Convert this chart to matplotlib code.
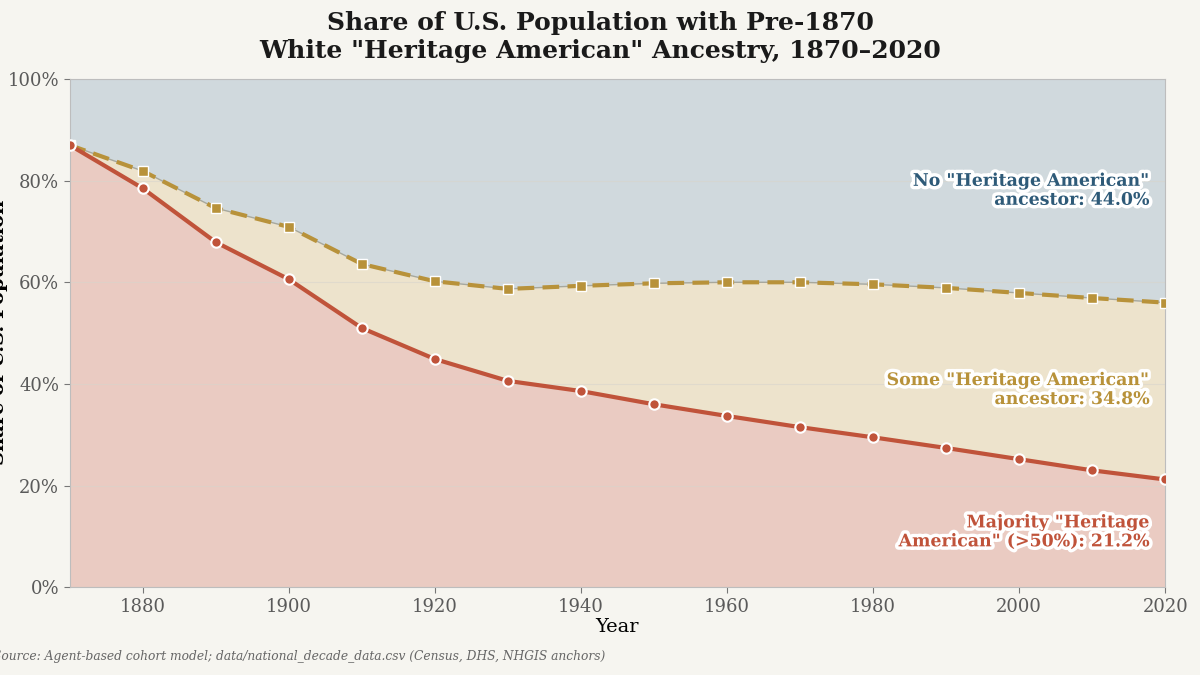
import numpy as np
import matplotlib.pyplot as plt
import matplotlib.patheffects as pe

years = [1870, 1880, 1890, 1900, 1910, 1920, 1930, 1940, 1950, 1960, 1970, 1980, 1990, 2000, 2010, 2020]
majority = [87.0, 78.5, 67.9, 60.6, 51.0, 44.9, 40.6, 38.6, 36.0, 33.7, 31.5, 29.5, 27.4, 25.2, 23.0, 21.2]
any_heritage = [87.0, 81.9, 74.6, 70.9, 63.6, 60.2, 58.7, 59.3, 59.8, 60.0, 60.0, 59.6, 58.9, 57.9, 56.9, 56.0]

bg = "#f6f5f0"
red = "#c0533a"
gold = "#b8923a"
blue = "#2e5a78"

plt.rcParams['font.family'] = 'DejaVu Serif'

fig = plt.figure(figsize=(12, 6.75), dpi=100, facecolor=bg)
ax = fig.add_axes([0.058, 0.130, 0.913, 0.753])
ax.set_facecolor(bg)

x = np.array(years)
maj = np.array(majority)
anyh = np.array(any_heritage)

# stacked bands
ax.fill_between(x, 0, maj, color="#eacbc2", lw=0)
ax.fill_between(x, maj, anyh, color="#ede3cc", lw=0)
ax.fill_between(x, anyh, 100, color="#d0d9dd", lw=0)

ax.plot(x, anyh, color="#a8a89c", lw=1, zorder=3)
ax.plot(x, anyh, color=gold, lw=3, ls=(0, (4, 2)), marker='s', ms=7,
        mfc=gold, mec='white', mew=1.0, zorder=4)
ax.plot(x, maj, color=red, lw=3, marker='o', ms=7.5,
        mfc=red, mec='white', mew=1.5, zorder=5)

ax.set_xlim(1870, 2020)
ax.set_ylim(0, 100)
ax.set_xticks(range(1880, 2021, 20))
ax.set_yticks(range(0, 101, 20))
ax.set_yticklabels([f"{v}%" for v in range(0, 101, 20)])
ax.grid(axis='y', color='#d8d4cc', lw=0.8, alpha=0.6)
for s in ax.spines.values():
    s.set_color('#bdbdbd')
    s.set_linewidth(0.8)
ax.tick_params(colors='#5a5a5a', labelsize=13, length=4, color='#777777')

ax.set_xlabel("Year", fontsize=14, labelpad=2)
fig.text(-0.001, 0.507, "Share of U.S. Population", rotation=90, ha='center', va='center',
         fontsize=14, fontweight='bold')

fig.suptitle('Share of U.S. Population with Pre-1870\nWhite "Heritage American" Ancestry, 1870\u20132020',
             fontsize=18, fontweight='bold', y=0.983, linespacing=1.2, color='#1a1a1a')

stroke = [pe.withStroke(linewidth=5, foreground='white')]
ax.text(0.986, 0.78, 'No "Heritage American"\nancestor: 44.0%', transform=ax.transAxes,
        ha='right', va='center', fontsize=12.5, fontweight='bold', color=blue,
        path_effects=stroke, linespacing=1.15, zorder=6)
ax.text(0.986, 0.388, 'Some "Heritage American"\nancestor: 34.8%', transform=ax.transAxes,
        ha='right', va='center', fontsize=12.5, fontweight='bold', color=gold,
        path_effects=stroke, linespacing=1.15, zorder=6)
ax.text(0.986, 0.108, 'Majority "Heritage\nAmerican" (>50%): 21.2%', transform=ax.transAxes,
        ha='right', va='center', fontsize=12.5, fontweight='bold', color=red,
        path_effects=stroke, linespacing=1.15, zorder=6)

fig.text(-0.006, 0.027, "Source: Agent-based cohort model; data/national_decade_data.csv (Census, DHS, NHGIS anchors)",
         ha='left', va='center', fontsize=8.8, style='italic', color='#666666')

fig.savefig("out.png", dpi=100, facecolor=bg)
